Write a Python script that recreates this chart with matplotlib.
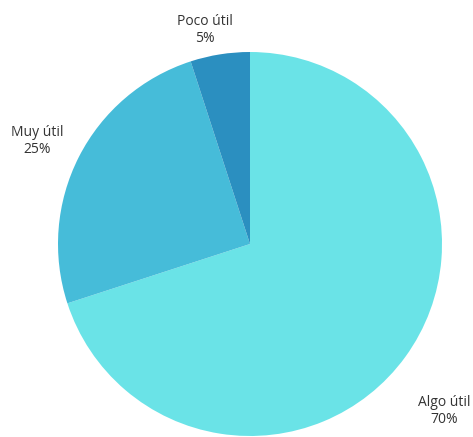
import matplotlib.pyplot as plt

labels = ['Algo útil', 'Muy útil', 'Poco útil']
values = [70, 25, 5]
colors = ['#6ae3e7', '#46bcd9', '#2b8fc0']
# label positions in pixels (x, y from top)
label_pos = [(444, 411), (37, 141), (205, 30)]

plt.rcParams['font.family'] = ['Open Sans', 'DejaVu Sans']

W, H = 473, 437
fig = plt.figure(figsize=(W / 100, H / 100), dpi=100)
ax = fig.add_axes([0, 0, 1, 1])

ax.pie(values, colors=colors, startangle=90, counterclock=False,
       center=(250, H - 244), radius=192,
       wedgeprops=dict(linewidth=0))

for lab, v, (x, y) in zip(labels, values, label_pos):
    ax.text(x, H - y, f'{lab}\n{v}%', ha='center', va='center',
            fontsize=10, color='#333333', linespacing=1.15)

ax.set_xlim(0, W)
ax.set_ylim(0, H)
ax.set_aspect('equal')
ax.axis('off')

fig.savefig('out.png', dpi=100)
